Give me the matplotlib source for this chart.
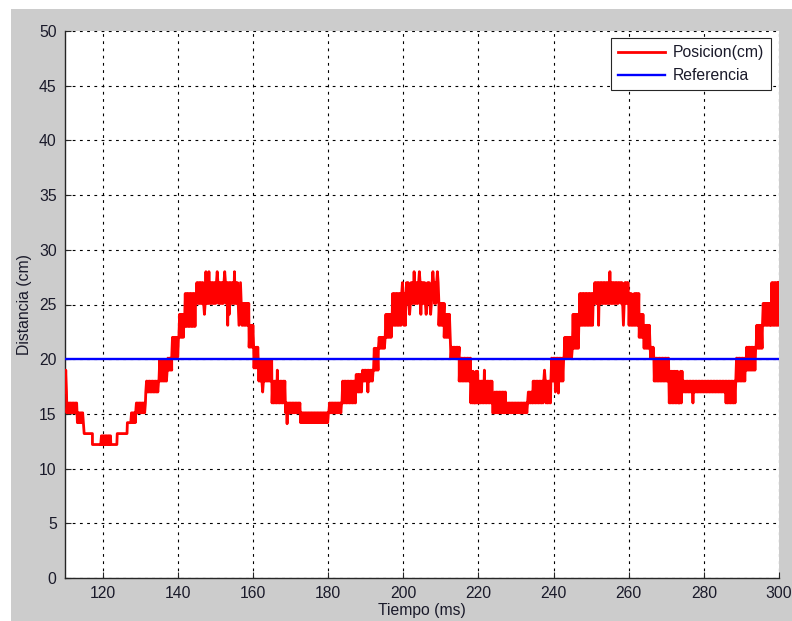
import numpy as np
import matplotlib
matplotlib.use("Agg")
import matplotlib.pyplot as plt
from matplotlib.patches import Rectangle

# Measured position: each segment is (t_start, t_end, low_level, high_level);
# within a segment the sensor reading flickers between the two levels.
seg_start = [110.0, 110.5, 113.3, 115.1, 117.3, 119.5, 122.2, 123.9, 126.6, 127.5,
             128.8, 131.5, 135.0, 137.2, 138.4, 140.3, 141.8, 144.9, 157.1, 159.0,
             160.3, 161.6, 165.1, 168.7, 172.7, 180.2, 183.7, 187.3, 189.0, 192.1,
             193.4, 195.2, 197.0, 200.7, 209.5, 210.9, 212.7, 214.9, 218.0, 220.2,
             223.8, 227.3, 233.1, 234.4, 239.3, 242.8, 245.0, 246.8, 250.8, 260.1,
             262.8, 264.1, 265.9, 266.8, 270.8, 274.3, 285.9, 288.5, 291.2, 293.9,
             295.6, 297.9]
seg_end = seg_start[1:] + [300.0]
seg_low = [17.0, 15.1, 14.2, 13.2, 12.2, 12.2, 12.2, 13.2, 14.2, 14.2,
           15.1, 17.0, 18.0, 19.0, 20.2, 22.0, 23.0, 25.1, 23.1, 21.1,
           19.2, 18.0, 16.0, 15.1, 14.2, 15.1, 16.0, 17.0, 18.0, 19.0,
           21.0, 22.0, 23.1, 25.1, 23.1, 22.0, 20.1, 18.0, 16.0, 16.0,
           15.1, 15.1, 16.0, 16.0, 18.0, 20.1, 21.0, 23.1, 25.1, 23.1,
           22.0, 21.0, 20.1, 18.0, 16.0, 17.0, 16.0, 18.0, 19.0, 21.0,
           23.1, 23.1]
seg_high = [19.0, 16.0, 15.1, 13.2, 12.2, 13.0, 12.2, 13.2, 14.2, 15.1,
            16.0, 18.0, 19.9, 20.1, 22.0, 24.1, 26.0, 27.0, 25.1, 23.1,
            21.1, 19.9, 18.0, 16.0, 15.1, 16.0, 18.0, 18.6, 19.0, 21.0,
            22.0, 24.1, 26.0, 27.0, 25.1, 24.1, 21.1, 20.1, 18.9, 18.0,
            17.0, 16.0, 17.0, 18.0, 20.1, 22.0, 24.1, 26.0, 27.0, 26.0,
            24.1, 23.1, 21.1, 20.1, 18.9, 18.0, 18.0, 20.1, 21.1, 23.1,
            25.1, 27.0]

# Isolated spikes / dips in the reading: (time ms, value cm)
spike_t = [147.5, 148.3, 150.5, 152.4, 155.0, 156.3, 147.0, 153.2, 153.7, 156.2,
           162.5, 166.5, 169.1, 190.5, 199.8, 202.9, 204.2, 207.8, 209.1,
           201.6, 204.7, 206.0, 207.3, 219.0, 221.5, 224.0, 237.5, 240.5, 241.3,
           254.9, 257.5, 252.0, 258.5, 261.0, 271.2, 273.4, 277.0, 286.2, 288.2,
           298.8]
spike_v = [28.0, 28.0, 28.0, 28.0, 28.0, 28.0, 24.1, 23.1, 24.1, 23.1,
           17.0, 19.0, 14.1, 17.0, 27.0, 28.0, 28.0, 28.0, 28.0,
           24.1, 24.1, 24.1, 24.1, 16.0, 19.0, 15.1, 19.0, 17.0, 16.9,
           28.0, 27.0, 23.1, 23.1, 23.1, 16.0, 16.0, 16.0, 16.0, 16.0,
           27.0]

ref_t = [110.0, 300.0]
ref_v = [20.0, 20.0]

dt = 0.2
tt, vv = [], []
for t0, t1, lo, hi in zip(seg_start, seg_end, seg_low, seg_high):
    ts = np.arange(t0, t1, dt)
    for k, t in enumerate(ts):
        tt.append(t)
        vv.append(lo if k % 2 == 0 else hi)
tt.append(300.0)
vv.append(seg_high[-1])
tt = np.array(tt)
vv = np.array(vv)
for st, sv in zip(spike_t, spike_v):
    i = int(np.argmin(np.abs(tt - st)))
    vv[i] = sv

W, H = 792, 621
fig = plt.figure(figsize=(W / 100, H / 100), dpi=100, facecolor="white")
fig.patches.append(Rectangle((11 / W, 0), 1 - 11 / W, 1 - 9 / H,
                             transform=fig.transFigure, facecolor="#cccccc",
                             edgecolor="none", zorder=-10))

ax = fig.add_axes([65 / W, 43 / H, 714 / W, 547 / H])
ax.set_facecolor("white")

font = "Liberation Sans"
fs = 11.3

ax.plot(tt, vv, color="red", lw=2.0, label="Posicion(cm)", zorder=3)
ax.plot(ref_t, ref_v, color="blue", lw=1.7, label="Referencia", zorder=4)

ax.set_xlim(110, 300)
ax.set_ylim(0, 50)
ax.set_xticks(np.arange(120, 301, 20))
ax.set_yticks(np.arange(0, 51, 5))

ax.grid(True, color="black", linestyle=(0, (2.5, 4)), linewidth=0.8)
ax.set_axisbelow(True)

for side in ("top", "right"):
    ax.spines[side].set_visible(False)
for side in ("left", "bottom"):
    ax.spines[side].set_color("#262626")
    ax.spines[side].set_linewidth(1.0)

ax.tick_params(direction="in", length=4, width=0.8, colors="#262626",
               labelsize=fs, labelcolor="#1a1a2a", pad=6)
for lbl in ax.get_xticklabels() + ax.get_yticklabels():
    lbl.set_fontfamily(font)

ax.set_xlabel("Tiempo (ms)", fontsize=fs, family=font, color="#1a1a2a", labelpad=1)
ax.set_ylabel("Distancia (cm)", fontsize=fs, family=font, color="#1a1a2a", labelpad=5)

leg = ax.legend(loc="upper right", bbox_to_anchor=(0.989, 0.987), borderaxespad=0,
                prop={"family": font, "size": fs}, handlelength=3.0,
                frameon=True, fancybox=False, framealpha=1, edgecolor="#262626",
                borderpad=0.45, labelspacing=0.5, handletextpad=0.5)
leg.get_frame().set_linewidth(0.8)
for txt in leg.get_texts():
    txt.set_color("#1a1a2a")

fig.savefig("out.png", dpi=100, facecolor=fig.get_facecolor())
